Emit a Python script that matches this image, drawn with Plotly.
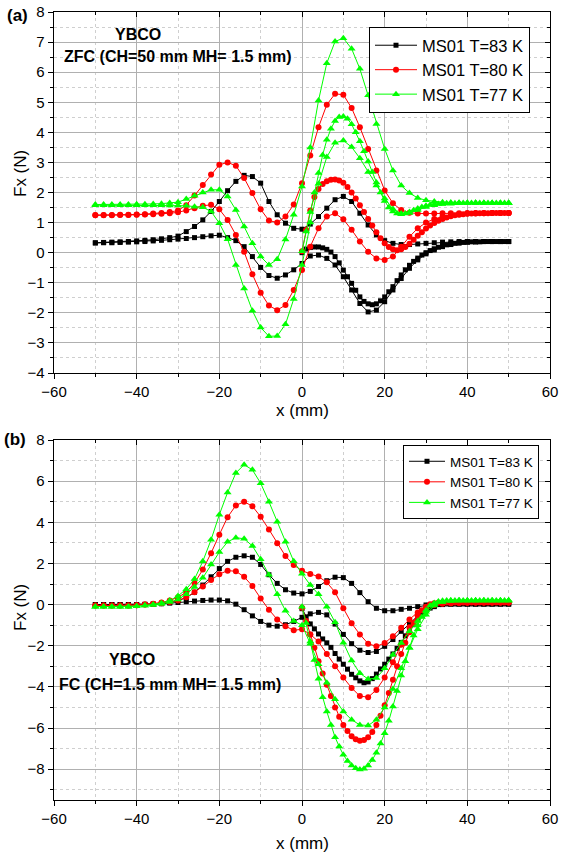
import plotly.graph_objects as go

# ---------------- data ----------------
x_loop = list(range(-50, 51, 2))      # full sweep positions (mm)
x_virgin = list(range(0, 51))         # first (virgin) sweep positions (mm)

series_names = ["MS01 T=83 K", "MS01 T=80 K", "MS01 T=77 K"]

# Panel (a) ZFC
a_black_up = [0.33, 0.34, 0.35, 0.36, 0.37, 0.39, 0.41, 0.43, 0.46, 0.50, 0.55, 0.70,
              0.87, 1.09, 1.37, 1.70, 2.06, 2.37, 2.57, 2.53, 2.31, 1.70, 1.26, 0.98,
              0.81, 0.78, 0.95, 1.20, 1.48, 1.76, 1.87, 1.70, 1.31, 0.92, 0.59, 0.40,
              0.31, 0.27, 0.27, 0.29, 0.31, 0.33, 0.35, 0.36, 0.37, 0.37, 0.37, 0.37,
              0.37, 0.37, 0.37]
a_black_lo = [0.32, 0.33, 0.33, 0.34, 0.35, 0.36, 0.37, 0.39, 0.41, 0.43, 0.45, 0.47,
              0.50, 0.53, 0.56, 0.58, 0.50, 0.40, 0.20, -0.13, -0.49, -0.76, -0.85, -0.74,
              -0.57, -0.36, -0.11, -0.08, -0.19, -0.41, -0.80, -1.24, -1.69, -1.97, -1.91, -1.63,
              -1.24, -0.86, -0.52, -0.24, -0.04, 0.09, 0.20, 0.27, 0.32, 0.35, 0.36, 0.37,
              0.37, 0.37, 0.37]
a_black_v = [0.00, 0.12, 0.17, 0.19, 0.19, 0.16, 0.11, 0.02, -0.13, -0.34,
             -0.58, -0.80, -1.02, -1.25, -1.47, -1.62, -1.70, -1.73, -1.70, -1.60,
             -1.47, -1.30, -1.13, -0.93, -0.74, -0.57, -0.42, -0.29, -0.18, -0.08,
             0.00, 0.07, 0.13, 0.18, 0.22, 0.26, 0.29, 0.31, 0.33, 0.34,
             0.35, 0.36, 0.36, 0.36, 0.37, 0.37, 0.37, 0.37, 0.37, 0.37, 0.37]

a_red_up = [1.25, 1.25, 1.25, 1.26, 1.26, 1.27, 1.28, 1.30, 1.32, 1.35, 1.40, 1.58,
            1.90, 2.25, 2.60, 2.92, 3.00, 2.89, 2.48, 1.98, 1.44, 1.07, 1.00, 1.20,
            1.60, 2.31, 3.23, 4.17, 4.92, 5.28, 5.25, 4.81, 4.17, 3.45, 2.73, 2.07,
            1.64, 1.42, 1.33, 1.30, 1.30, 1.30, 1.31, 1.31, 1.31, 1.32, 1.32, 1.32,
            1.32, 1.32, 1.32]
a_red_lo = [1.24, 1.24, 1.24, 1.25, 1.25, 1.26, 1.27, 1.28, 1.29, 1.31, 1.34, 1.40,
            1.48, 1.56, 1.59, 1.44, 1.09, 0.59, 0.03, -0.72, -1.33, -1.76, -1.91, -1.74,
            -1.24, -0.58, 0.20, 0.81, 1.20, 1.31, 1.11, 0.76, 0.37, 0.03, -0.19, -0.24,
            -0.13, 0.20, 0.53, 0.81, 1.00, 1.12, 1.20, 1.25, 1.28, 1.30, 1.31, 1.31,
            1.32, 1.32, 1.32]
a_red_v = [0.05, 0.75, 1.40, 1.85, 2.12, 2.28, 2.37, 2.42, 2.43, 2.40,
           2.32, 2.18, 2.00, 1.80, 1.58, 1.35, 1.12, 0.90, 0.68, 0.48,
           0.31, 0.19, 0.11, 0.08, 0.11, 0.19, 0.30, 0.43, 0.56, 0.68,
           0.80, 0.90, 0.99, 1.06, 1.12, 1.17, 1.21, 1.24, 1.26, 1.28,
           1.29, 1.30, 1.30, 1.31, 1.31, 1.31, 1.32, 1.32, 1.32, 1.32, 1.32]

a_green_up = [1.60, 1.60, 1.60, 1.60, 1.60, 1.61, 1.61, 1.62, 1.63, 1.65, 1.68, 1.78,
              1.89, 2.00, 2.09, 2.09, 1.87, 1.42, 0.87, 0.31, -0.13, -0.41, -0.22, 0.44,
              1.26, 2.20, 3.50, 5.06, 6.30, 7.02, 7.13, 6.78, 6.11, 5.23, 4.28, 3.45,
              2.73, 2.23, 1.98, 1.82, 1.74, 1.70, 1.68, 1.67, 1.66, 1.66, 1.66, 1.65,
              1.65, 1.65, 1.65]
a_green_lo = [1.58, 1.58, 1.58, 1.58, 1.58, 1.58, 1.58, 1.58, 1.58, 1.57, 1.57, 1.56,
              1.53, 1.51, 1.37, 0.98, 0.45, -0.41, -1.19, -1.93, -2.49, -2.78, -2.77, -2.38,
              -1.54, -0.41, 1.00, 2.29, 3.18, 3.65, 3.73, 3.51, 3.14, 2.68, 2.23, 1.80,
              1.45, 1.30, 1.32, 1.42, 1.52, 1.58, 1.62, 1.63, 1.64, 1.64, 1.65, 1.65,
              1.65, 1.65, 1.65]
a_green_v = [0.05, 0.70, 1.35, 2.00, 2.65, 3.25, 3.75, 4.12, 4.38, 4.51,
             4.53, 4.45, 4.27, 4.00, 3.70, 3.37, 3.03, 2.68, 2.33, 2.00,
             1.72, 1.50, 1.37, 1.30, 1.28, 1.30, 1.35, 1.41, 1.47, 1.52,
             1.56, 1.59, 1.61, 1.62, 1.63, 1.64, 1.64, 1.64, 1.65, 1.65,
             1.65, 1.65, 1.65, 1.65, 1.65, 1.65, 1.65, 1.65, 1.65, 1.65, 1.65]

# Panel (b) FC
b_black_up = [0.00, 0.00, 0.00, 0.00, 0.00, 0.00, 0.01, 0.02, 0.05, 0.10, 0.20, 0.33,
              0.60, 0.95, 1.35, 1.75, 2.10, 2.30, 2.37, 2.30, 1.95, 1.45, 1.03, 0.72,
              0.56, 0.52, 0.64, 0.88, 1.16, 1.33, 1.31, 1.03, 0.58, 0.14, -0.18, -0.30,
              -0.30, -0.23, -0.18, -0.10, -0.02, 0.02, 0.03, 0.03, 0.03, 0.03, 0.03, 0.03,
              0.03, 0.03, 0.03]
b_black_lo = [0.00, 0.00, 0.00, 0.00, 0.00, 0.00, 0.01, 0.02, 0.04, 0.07, 0.10, 0.14,
              0.17, 0.20, 0.22, 0.22, 0.18, 0.02, -0.25, -0.55, -0.82, -1.00, -1.05, -0.98,
              -0.82, -0.62, -0.45, -0.38, -0.50, -0.95, -1.45, -1.90, -2.22, -2.33, -2.28, -2.03,
              -1.70, -1.30, -0.90, -0.55, -0.28, -0.10, 0.00, 0.03, 0.03, 0.03, 0.03, 0.03,
              0.03, 0.03, 0.03]
b_black_v = [-0.20, -0.60, -0.94, -1.18, -1.43, -1.67, -1.86, -2.08, -2.38, -2.65,
             -2.90, -3.14, -3.39, -3.56, -3.71, -3.80, -3.76, -3.60, -3.38, -3.13,
             -2.90, -2.65, -2.40, -2.13, -1.84, -1.52, -1.25, -0.98, -0.72, -0.50,
             -0.30, -0.17, -0.07, 0.00, 0.02, 0.03, 0.03, 0.03, 0.03, 0.03,
             0.03, 0.03, 0.03, 0.03, 0.03, 0.03, 0.03, 0.03, 0.03, 0.03, 0.03]

b_red_up = [-0.05, -0.05, -0.05, -0.05, -0.04, -0.03, 0.00, 0.04, 0.10, 0.20, 0.35, 0.60,
            1.05, 1.70, 2.50, 3.40, 4.25, 4.82, 5.00, 4.78, 4.27, 3.65, 2.98, 2.36,
            1.92, 1.65, 1.49, 1.36, 1.08, 0.60, -0.18, -0.91, -1.45, -1.90, -2.03, -1.87,
            -1.54, -1.13, -0.72, -0.38, -0.15, -0.02, 0.04, 0.07, 0.08, 0.09, 0.10, 0.10,
            0.10, 0.10, 0.10]
b_red_lo = [-0.05, -0.05, -0.05, -0.05, -0.04, -0.03, 0.00, 0.03, 0.07, 0.12, 0.20, 0.35,
            0.60, 0.88, 1.20, 1.48, 1.65, 1.62, 1.35, 0.90, 0.30, -0.25, -0.72, -1.05,
            -1.25, -1.20, -1.45, -1.80, -2.40, -3.00, -3.55, -4.05, -4.45, -4.50, -4.15, -3.55,
            -2.80, -1.95, -1.10, -0.50, -0.15, 0.00, 0.06, 0.08, 0.09, 0.10, 0.10, 0.10,
            0.10, 0.10, 0.10]
b_red_v = [-0.15, -0.80, -1.45, -2.10, -2.75, -3.35, -3.90, -4.45, -5.00, -5.45,
           -5.85, -6.15, -6.40, -6.55, -6.62, -6.58, -6.45, -6.20, -5.85, -5.40,
           -4.90, -4.30, -3.65, -3.00, -2.40, -1.85, -1.35, -0.90, -0.55, -0.28,
           -0.10, 0.02, 0.07, 0.09, 0.10, 0.10, 0.10, 0.10, 0.10, 0.10,
           0.10, 0.10, 0.10, 0.10, 0.10, 0.10, 0.10, 0.10, 0.10, 0.10, 0.10]

b_green_up = [-0.10, -0.10, -0.10, -0.10, -0.10, -0.08, -0.05, 0.00, 0.08, 0.20, 0.42, 0.75,
              1.24, 2.10, 3.15, 4.37, 5.45, 6.40, 6.80, 6.55, 5.90, 5.00, 4.03, 3.05,
              2.10, 1.50, 0.95, 0.50, -0.10, -0.86, -1.85, -2.72, -3.34, -3.62, -3.57, -3.10,
              -2.44, -1.87, -1.30, -0.80, -0.35, 0.00, 0.14, 0.18, 0.20, 0.20, 0.20, 0.20,
              0.20, 0.20, 0.20]
b_green_lo = [-0.10, -0.10, -0.10, -0.10, -0.10, -0.08, -0.05, -0.02, 0.03, 0.12, 0.25, 0.50,
              0.85, 1.30, 1.95, 2.55, 3.05, 3.25, 3.20, 2.85, 2.20, 1.45, 0.50, -0.30,
              -0.80, -1.00, -1.90, -2.90, -3.80, -4.60, -5.20, -5.60, -5.85, -5.88, -5.60, -5.00,
              -4.10, -3.10, -2.10, -1.20, -0.50, -0.05, 0.12, 0.18, 0.20, 0.20, 0.20, 0.20,
              0.20, 0.20, 0.20]
b_green_v = [-0.10, -0.90, -1.80, -2.70, -3.60, -4.50, -5.20, -5.85, -6.45, -6.90,
             -7.30, -7.60, -7.82, -7.96, -8.02, -7.98, -7.82, -7.55, -7.20, -6.75,
             -6.25, -5.65, -4.95, -4.20, -3.45, -2.75, -2.10, -1.50, -1.00, -0.60,
             -0.28, -0.05, 0.08, 0.15, 0.18, 0.20, 0.20, 0.20, 0.20, 0.20,
             0.20, 0.20, 0.20, 0.20, 0.20, 0.20, 0.20, 0.20, 0.20, 0.20, 0.20]

# ---------------- styling ----------------
W, H = 561, 856
FONT = "Liberation Sans, Arial, sans-serif"
colors = ["#000000", "#FF0000", "#00FF00"]
symbols = ["square", "circle", "triangle-up"]
msizes = [5, 6, 7]

def fx(px):
    return px / W

def fy(py):
    return 1 - py / H

XDOM = [fx(54), fx(550)]
YDOM_A = [fy(373), fy(12)]
YDOM_B = [fy(800), fy(440)]

fig = go.Figure()

panels = {
    "a": ("x", "y", "legend",
          [(a_black_up, a_black_lo, a_black_v), (a_red_up, a_red_lo, a_red_v),
           (a_green_up, a_green_lo, a_green_v)]),
    "b": ("x2", "y2", "legend2",
          [(b_black_up, b_black_lo, b_black_v), (b_red_up, b_red_lo, b_red_v),
           (b_green_up, b_green_lo, b_green_v)]),
}

for key, (xa, ya, leg, groups) in panels.items():
    for i, (up, lo, vg) in enumerate(groups):
        for j, (xs, ys) in enumerate([(x_loop, up), (x_loop, lo), (x_virgin, vg)]):
            fig.add_trace(go.Scatter(
                x=xs, y=ys, mode="lines+markers", xaxis=xa, yaxis=ya,
                name=series_names[i], legend=leg, showlegend=(j == 0),
                line=dict(color=colors[i], width=1),
                marker=dict(symbol=symbols[i], size=msizes[i], color=colors[i],
                            line=dict(width=0)),
                hoverinfo="skip"))

# empty traces so that mirrored inside-tick axes are drawn
for xa, ya in (("x3", "y3"), ("x4", "y4")):
    fig.add_trace(go.Scatter(x=[], y=[], xaxis=xa, yaxis=ya, showlegend=False,
                             hoverinfo="skip"))

grid_major = "#b0b0b0"
grid_minor = "#cfcfcf"
tickfont = dict(family=FONT, size=15, color="black")

def xaxis_main(anchor):
    return dict(domain=XDOM, anchor=anchor, range=[-60, 60], tick0=0, dtick=20,
                ticks="outside", ticklen=5, tickwidth=1, tickcolor="black",
                showline=True, linecolor="black", linewidth=1.3, mirror=True,
                showgrid=True, gridcolor=grid_major, gridwidth=1,
                zeroline=False, tickfont=tickfont, automargin=False,
                minor=dict(dtick=10, tick0=0, ticks="outside", ticklen=3,
                           tickcolor="black", showgrid=True, gridcolor=grid_minor,
                           griddash="dot", gridwidth=1))

def yaxis_main(anchor, dom, rng, dt, mdt):
    return dict(domain=dom, anchor=anchor, range=rng, tick0=0, dtick=dt,
                ticks="outside", ticklen=5, tickwidth=1, tickcolor="black",
                showline=True, linecolor="black", linewidth=1.3, mirror=True,
                showgrid=True, gridcolor=grid_major, gridwidth=1,
                zeroline=False, tickfont=tickfont, automargin=False,
                minor=dict(dtick=mdt, tick0=0, ticks="outside", ticklen=3,
                           tickcolor="black", showgrid=True, gridcolor=grid_minor,
                           griddash="dot", gridwidth=1))

def x_mirror(over, anchor):
    return dict(overlaying=over, anchor=anchor, side="top", range=[-60, 60],
                tick0=0, dtick=20, ticks="inside", ticklen=5, tickcolor="black",
                showticklabels=False, showgrid=False, showline=False, zeroline=False,
                automargin=False,
                minor=dict(dtick=10, tick0=0, ticks="inside", ticklen=3,
                           tickcolor="black", showgrid=False))

def y_mirror(over, anchor, rng, dt, mdt):
    return dict(overlaying=over, anchor=anchor, side="right", range=rng,
                tick0=0, dtick=dt, ticks="inside", ticklen=5, tickcolor="black",
                showticklabels=False, showgrid=False, showline=False, zeroline=False,
                automargin=False,
                minor=dict(dtick=mdt, tick0=0, ticks="inside", ticklen=3,
                           tickcolor="black", showgrid=False))

legend_common = dict(bgcolor="white", bordercolor="black", borderwidth=1,
                     xanchor="left", yanchor="top", tracegroupgap=0,
                     itemclick=False, itemdoubleclick=False)

fig.update_layout(
    width=W, height=H, autosize=False,
    margin=dict(l=0, r=0, t=0, b=0, pad=0, autoexpand=False),
    paper_bgcolor="white", plot_bgcolor="white",
    font=dict(family=FONT, size=15, color="black"),
    xaxis=xaxis_main("y"),
    yaxis=yaxis_main("x", YDOM_A, [-4, 8], 1, 0.5),
    xaxis2=xaxis_main("y2"),
    yaxis2=yaxis_main("x2", YDOM_B, [-9.5, 8], 2, 1),
    xaxis3=x_mirror("x", "y"),
    yaxis3=y_mirror("y", "x", [-4, 8], 1, 0.5),
    xaxis4=x_mirror("x2", "y2"),
    yaxis4=y_mirror("y2", "x2", [-9.5, 8], 2, 1),
    legend=dict(x=fx(369), y=fy(27), itemwidth=42,
                font=dict(family=FONT, size=16.5, color="black"), **legend_common),
    legend2=dict(x=fx(403), y=fy(445), itemwidth=36,
                 font=dict(family=FONT, size=13.5, color="black"), **legend_common),
    showlegend=True,
)

def ann(text, px, py, size, bold=False, xanchor="center", angle=0):
    fig.add_annotation(text=f"<b>{text}</b>" if bold else text,
                       x=fx(px), y=fy(py), xref="paper", yref="paper",
                       xanchor=xanchor, yanchor="middle", showarrow=False,
                       textangle=angle,
                       font=dict(family=FONT, size=size, color="black"))

ann("(a)", 17, 15, 17, bold=True)
ann("(b)", 15, 440, 17, bold=True)
ann("YBCO", 138, 35, 16, bold=True)
ann("ZFC (CH=50 mm MH= 1.5 mm)", 62, 57, 16, bold=True, xanchor="left")
ann("YBCO", 132, 659, 16, bold=True)
ann("FC (CH=1.5 mm MH= 1.5 mm)", 57, 684, 16, bold=True, xanchor="left")
ann("Fx (N)", 20, 174, 17, angle=-90)
ann("Fx (N)", 20, 608, 17, angle=-90)
ann("x (mm)", 302, 410, 17)
ann("x (mm)", 302, 843, 17)

fig.write_html(
    "out.html",
    config={"displayModeBar": False, "staticPlot": True},
    post_script="document.body.style.margin='0';document.body.style.padding='0';"
                "document.body.style.overflow='hidden';",
)
